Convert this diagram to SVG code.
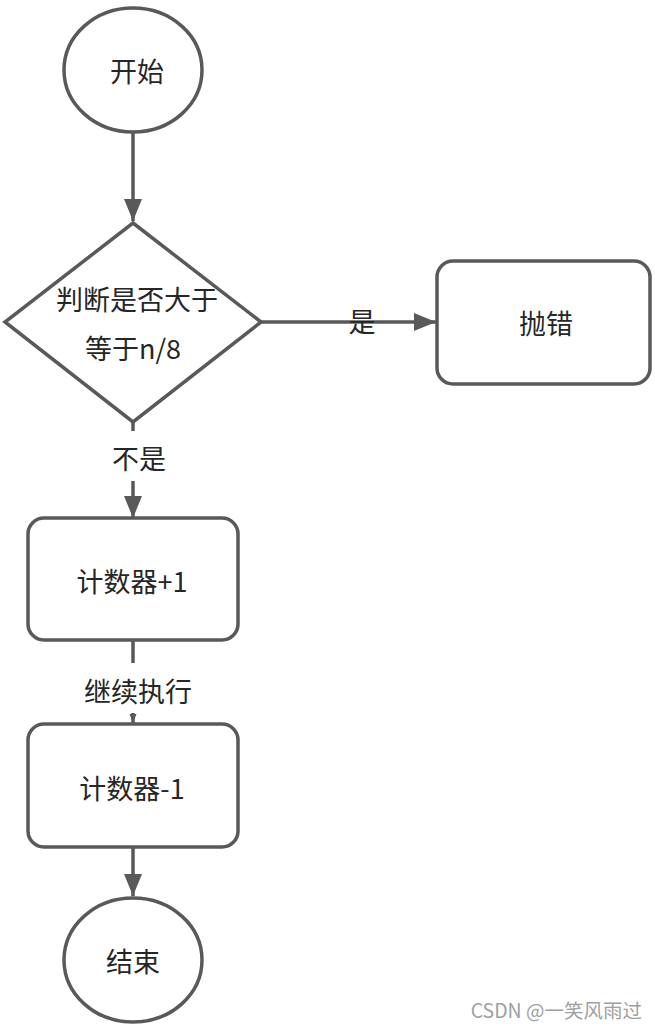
<svg xmlns="http://www.w3.org/2000/svg" width="655" height="1029" viewBox="0 0 655 1029">
<style>
.shape{fill:#fff;stroke:#595959;stroke-width:3.5}
.line{fill:none;stroke:#595959;stroke-width:3.5}
.t{font-family:"Microsoft YaHei","Noto Sans CJK SC","Noto Sans",sans-serif;font-size:27px;fill:#262626;text-anchor:middle;dominant-baseline:central}
.wm{font-family:"Noto Sans CJK SC","Noto Sans",sans-serif;font-size:19.5px;fill:#a0a0a0;text-anchor:end;dominant-baseline:central}
</style>
<defs>
<marker id="arrow" markerUnits="userSpaceOnUse" markerWidth="24" markerHeight="20" refX="22" refY="9" orient="auto">
<path d="M0,0 L22,9 L0,18 Z" fill="#595959"/>
</marker>
<marker id="arrowSmall" markerUnits="userSpaceOnUse" markerWidth="10" markerHeight="8" refX="9" refY="3.5" orient="auto">
<path d="M0,0 L9,3.5 L0,7 Z" fill="#595959"/>
</marker>
</defs>
<rect width="655" height="1029" fill="#fff"/>
<g id="connectors">
<line class="line" x1="133" y1="132" x2="133" y2="221" marker-end="url(#arrow)"/>
<line class="line" x1="261" y1="322" x2="436" y2="322" marker-end="url(#arrow)"/>
<rect x="343" y="306" width="20" height="14" fill="#fff"/>
<text class="t" x="362" y="320">是</text>
<line class="line" x1="133" y1="422" x2="133" y2="431"/>
<line class="line" x1="133" y1="481" x2="133" y2="518" marker-end="url(#arrow)"/>
<text class="t" x="139" y="457">不是</text>
<line class="line" x1="133" y1="640" x2="133" y2="663"/>
<line class="line" x1="133" y1="713" x2="133" y2="723" stroke-width="1.5" marker-end="url(#arrowSmall)"/>
<text class="t" x="138" y="690">继续执行</text>
<line class="line" x1="133" y1="847" x2="133" y2="896" marker-end="url(#arrow)"/>
</g>
<g id="start">
<ellipse class="shape" cx="133" cy="70" rx="69" ry="62"/>
<text class="t" x="137" y="70">开始</text>
</g>
<g id="decision">
<polygon class="shape" points="133,223 261,322 133,422 5,322"/>
<text class="t" x="137" y="298">判断是否大于</text>
<text class="t" x="133" y="347">等于n/8</text>
</g>
<g id="throw">
<rect class="shape" x="437" y="261" width="213" height="123" rx="16"/>
<text class="t" x="546" y="322">抛错</text>
</g>
<g id="inc">
<rect class="shape" x="28" y="518" width="210" height="122" rx="16"/>
<text class="t" x="132" y="580">计数器+1</text>
</g>
<g id="dec">
<rect class="shape" x="28" y="724" width="210" height="123" rx="16"/>
<text class="t" x="132" y="787">计数器-1</text>
</g>
<g id="end">
<ellipse class="shape" cx="133" cy="960" rx="69" ry="62"/>
<text class="t" x="133" y="960">结束</text>
</g>
<text class="wm" x="642" y="1009">CSDN @一笑风雨过</text>
</svg>
